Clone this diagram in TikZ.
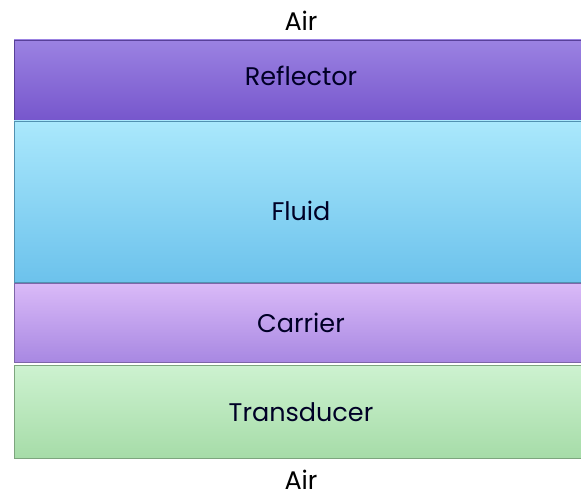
\documentclass[tikz,border=0pt]{standalone}
\usepackage{fontspec}
\setmainfont{Poppins}
\begin{document}
\begin{tikzpicture}[x=1pt,y=-1pt,
  layer/.style={draw=#1!75!black, line width=0.7pt, minimum width=572pt, anchor=north west, inner sep=0pt, outer sep=0pt},
  lbl/.style={font=\fontsize{25.5}{28}\selectfont, text=black!85!blue, inner sep=1pt}]
\definecolor{refT}{HTML}{9B82E2}\definecolor{refB}{HTML}{7656CC}
\definecolor{fluT}{HTML}{AAE8FC}\definecolor{fluB}{HTML}{6CC2EC}
\definecolor{carT}{HTML}{DABAF8}\definecolor{carB}{HTML}{A888E2}
\definecolor{traT}{HTML}{CDF2D0}\definecolor{traB}{HTML}{A6DCA8}
\useasboundingbox (0,0) rectangle (581,497);
\fill[white] (0,0) rectangle (581,497);
\node[layer=refB, minimum height=81pt, top color=refT, bottom color=refB] (reflector) at (14,40) {};
\node[layer=fluB, minimum height=161pt, top color=fluT, bottom color=fluB] (fluid) at (14,121) {};
\node[layer=carB, minimum height=79pt, top color=carT, bottom color=carB] (carrier) at (14,283) {};
\node[layer=traB, minimum height=93pt, top color=traT, bottom color=traB] (transducer) at (14,365) {};
\node[lbl, text=black] (airtop) at (301,21) {Air};
\node[lbl] (reflectortxt) at (301,76) {Reflector};
\node[lbl] (fluidtxt) at (301,211) {Fluid};
\node[lbl] (carriertxt) at (301,323) {Carrier};
\node[lbl] (transducertxt) at (301,412) {Transducer};
\node[lbl, text=black] (airbot) at (301,480) {Air};
\end{tikzpicture}
\end{document}
